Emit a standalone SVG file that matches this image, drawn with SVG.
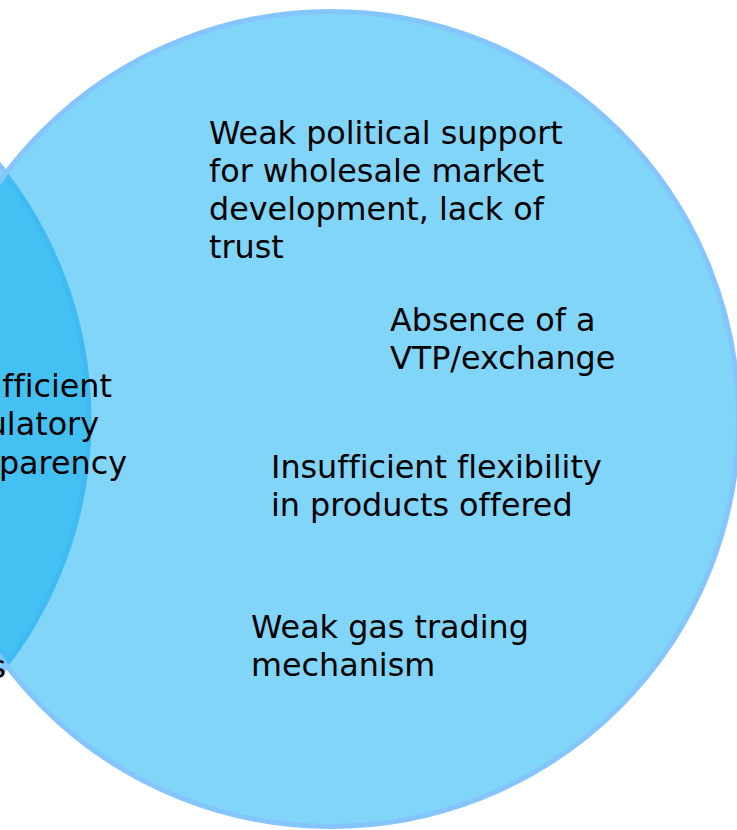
<svg xmlns="http://www.w3.org/2000/svg" width="737" height="830" viewBox="0 0 737 830">
<style>
.t{font-family:"DejaVu Sans","Verdana",sans-serif;font-size:31.8px;fill:#000;font-variant-ligatures:none}
.c{fill:#81d5f9;stroke:#85c5fe;stroke-width:5}
</style>
<defs>
<clipPath id="leftClip"><circle cx="-314" cy="420" r="404"/></clipPath>
<clipPath id="mainClip"><circle cx="331" cy="419" r="405"/></clipPath>
</defs>
<rect width="737" height="830" fill="#fff"/>
<g id="left-circle">
<circle class="c" cx="-314" cy="420" r="404"/>
</g>
<g id="main-circle">
<circle class="c" cx="331" cy="419" r="407.5"/>
</g>
<g id="overlap">
<circle cx="331" cy="419" r="405" fill="#45c0f3" clip-path="url(#leftClip)"/>
<circle cx="-314" cy="420" r="403" fill="none" stroke="#3fbbf2" stroke-width="5" clip-path="url(#mainClip)"/>
</g>
<g id="left-label">
<text class="t" text-anchor="end" x="112" y="397">Insufficient</text>
<text class="t" text-anchor="end" x="99" y="435">regulatory</text>
<text class="t" text-anchor="end" x="127" y="474">transparency</text>
<text class="t" text-anchor="end" x="6" y="678">s</text>
</g>
<g id="label-political">
<text class="t" x="209" y="144">Weak political support</text>
<text class="t" x="209" y="182">for wholesale market</text>
<text class="t" x="209" y="220">development, lack of</text>
<text class="t" x="209" y="258">trust</text>
</g>
<g id="label-vtp">
<text class="t" x="390" y="331">Absence of a</text>
<text class="t" x="390" y="369">VTP/exchange</text>
</g>
<g id="label-flex">
<text class="t" x="271" y="478">Insufficient flexibility</text>
<text class="t" x="271" y="516">in products offered</text>
</g>
<g id="label-trading">
<text class="t" x="251" y="638">Weak gas trading</text>
<text class="t" x="251" y="676">mechanism</text>
</g>
<g id="connectors"/>
</svg>
